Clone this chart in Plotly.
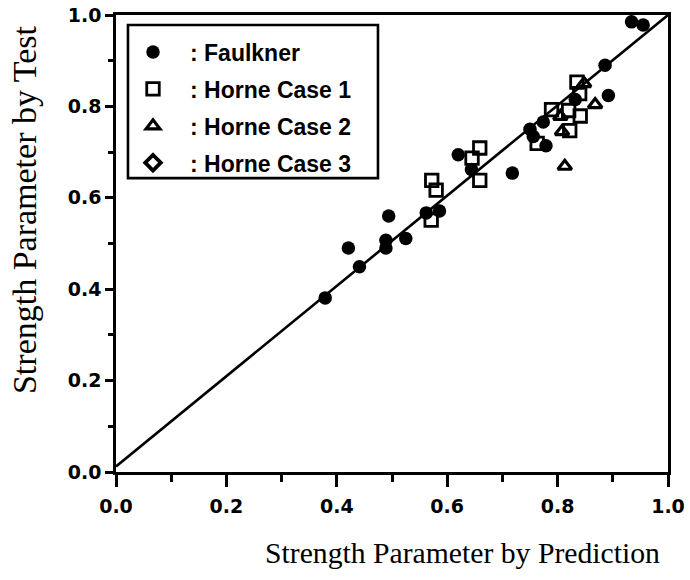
import plotly.graph_objects as go

# Faulkner test results (prediction, test)
faulkner_x = [0.379, 0.421, 0.441, 0.489, 0.489, 0.494, 0.525, 0.562, 0.586, 0.620, 0.644,
              0.718, 0.750, 0.756, 0.774, 0.779, 0.832, 0.886, 0.892, 0.934, 0.955]
faulkner_y = [0.381, 0.490, 0.449, 0.507, 0.490, 0.560, 0.511, 0.567, 0.571, 0.694, 0.662,
              0.654, 0.750, 0.734, 0.766, 0.714, 0.815, 0.890, 0.824, 0.985, 0.978]

# Horne Case 1
horne1_x = [0.572, 0.580, 0.571, 0.645, 0.659, 0.659, 0.763, 0.789, 0.820, 0.841, 0.822, 0.835, 0.840]
horne1_y = [0.638, 0.617, 0.551, 0.687, 0.709, 0.638, 0.719, 0.793, 0.791, 0.779, 0.747, 0.853, 0.828]

# Horne Case 2
horne2_x = [0.805, 0.808, 0.813, 0.848, 0.868]
horne2_y = [0.778, 0.745, 0.669, 0.850, 0.804]

# Horne Case 3 (no points in range)
horne3_x = [None]
horne3_y = [None]

# Line of agreement
line_x = [0.0, 1.0]
line_y = [0.012, 1.0]

x_ticks = [0.0, 0.2, 0.4, 0.6, 0.8, 1.0]
x_tick_labels = ["0.0", "0.2", "0.4", "0.6", "0.8", "1.0"]
y_ticks = [0.0, 0.2, 0.4, 0.6, 0.8, 1.0]
y_tick_labels = ["0.0", "0.2", "0.4", "0.6", "0.8", "1.0"]

fig = go.Figure()

fig.add_trace(go.Scatter(x=line_x, y=line_y, mode="lines",
                         line=dict(color="black", width=2.6), showlegend=False,
                         hoverinfo="skip"))

fig.add_trace(go.Scatter(x=faulkner_x, y=faulkner_y, mode="markers", name=": Faulkner",
                         legendgroup="f",
                         marker=dict(symbol="circle", size=13.5, color="black",
                                     line=dict(width=0))))
fig.add_trace(go.Scatter(x=horne1_x, y=horne1_y, mode="markers", name=": Horne Case 1",
                         legendgroup="h1",
                         marker=dict(symbol="square-open", size=12.5, color="black",
                                     line=dict(width=2.8, color="black"))))
fig.add_trace(go.Scatter(x=horne2_x, y=horne2_y, mode="markers", name=": Horne Case 2",
                         legendgroup="h2",
                         marker=dict(symbol="triangle-up-open", size=12, color="black",
                                     line=dict(width=3.2, color="black"))))
fig.add_trace(go.Scatter(x=horne3_x, y=horne3_y, mode="markers", name=": Horne Case 3",
                         legendgroup="h3",
                         marker=dict(symbol="diamond-open", size=12, color="black",
                                     line=dict(width=3.8, color="black"))))

tick_font = dict(family="DejaVu Sans", size=19, color="black", weight="bold")

fig.update_xaxes(range=[0, 1], tickvals=x_ticks, ticktext=x_tick_labels,
                 ticks="outside", ticklen=12, tickwidth=2.6, tickcolor="black",
                 ticklabelstandoff=3, automargin=False,
                 minor=dict(dtick=0.1, ticks="outside", ticklen=7, tickwidth=2.6,
                            tickcolor="black", showgrid=False),
                 showline=True, linecolor="black", linewidth=2.6, mirror=True,
                 showgrid=False, zeroline=False, tickfont=tick_font)
fig.update_yaxes(range=[0, 1], tickvals=y_ticks, ticktext=y_tick_labels,
                 ticks="outside", ticklen=8, tickwidth=2.6, tickcolor="black",
                 automargin=False,
                 minor=dict(dtick=0.1, ticks="outside", ticklen=5, tickwidth=2.6,
                            tickcolor="black", showgrid=False),
                 showline=True, linecolor="black", linewidth=2.6, mirror=True,
                 showgrid=False, zeroline=False, tickfont=tick_font)

fig.add_annotation(text="Strength Parameter by Prediction", xref="paper", yref="paper",
                   x=0.989, y=-0.177, xanchor="right", yanchor="middle",
                   showarrow=False,
                   font=dict(family="Liberation Serif", size=29.7, color="black"))
fig.add_annotation(text="Strength Parameter by Test", xref="paper", yref="paper",
                   x=-0.167, y=0.575, xanchor="center", yanchor="middle",
                   textangle=-90, showarrow=False,
                   font=dict(family="Liberation Serif", size=34, color="black"))

# Frame around the legend
fig.add_shape(type="rect", xref="paper", yref="paper",
              x0=0.0217, x1=0.4746, y0=0.643, y1=0.978,
              line=dict(color="black", width=2.6), fillcolor="rgba(0,0,0,0)",
              layer="above")

fig.update_layout(
    width=690, height=580,
    margin=dict(l=116, r=22, t=15, b=108),
    plot_bgcolor="white", paper_bgcolor="white",
    legend=dict(x=0.0, y=0.966, xanchor="left", yanchor="top",
                borderwidth=0, bgcolor="rgba(0,0,0,0)",
                font=dict(family="Liberation Sans", size=23, color="black", weight="bold"),
                tracegroupgap=4, itemwidth=64),
)

fig.write_html("out.html")
